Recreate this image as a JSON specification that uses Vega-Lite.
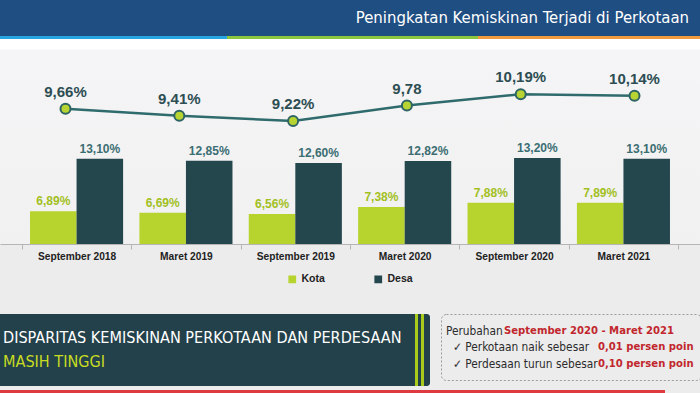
{
  "$schema": "https://vega.github.io/schema/vega-lite/v6.json",
  "background": "#ececec",
  "padding": 0,
  "config": {"view": {"stroke": null}, "font": "Liberation Sans", "legend": {"layout": {"bottom": {"anchor": "middle"}}}},
  "datasets": {
    "batang": [
      {"periode": "September 2018", "kategori": "Kota", "nilai": 6.89, "label": "6,89%"},
      {"periode": "September 2018", "kategori": "Desa", "nilai": 13.10, "label": "13,10%"},
      {"periode": "Maret 2019", "kategori": "Kota", "nilai": 6.69, "label": "6,69%"},
      {"periode": "Maret 2019", "kategori": "Desa", "nilai": 12.85, "label": "12,85%"},
      {"periode": "September 2019", "kategori": "Kota", "nilai": 6.56, "label": "6,56%"},
      {"periode": "September 2019", "kategori": "Desa", "nilai": 12.60, "label": "12,60%"},
      {"periode": "Maret 2020", "kategori": "Kota", "nilai": 7.38, "label": "7,38%"},
      {"periode": "Maret 2020", "kategori": "Desa", "nilai": 12.82, "label": "12,82%"},
      {"periode": "September 2020", "kategori": "Kota", "nilai": 7.88, "label": "7,88%"},
      {"periode": "September 2020", "kategori": "Desa", "nilai": 13.20, "label": "13,20%"},
      {"periode": "Maret 2021", "kategori": "Kota", "nilai": 7.89, "label": "7,89%"},
      {"periode": "Maret 2021", "kategori": "Desa", "nilai": 13.10, "label": "13,10%"}
    ],
    "total": [
      {"periode": "September 2018", "nilai": 9.66, "label": "9,66%"},
      {"periode": "Maret 2019", "nilai": 9.41, "label": "9,41%"},
      {"periode": "September 2019", "nilai": 9.22, "label": "9,22%"},
      {"periode": "Maret 2020", "nilai": 9.78, "label": "9,78"},
      {"periode": "September 2020", "nilai": 10.19, "label": "10,19%"},
      {"periode": "Maret 2021", "nilai": 10.14, "label": "10,14%"}
    ]
  },
  "spacing": 28,
  "resolve": {"scale": {"color": "independent"}, "legend": {"color": "independent"}},
  "vconcat": [
    {
      "spacing": 0,
      "resolve": {"scale": {"color": "independent"}, "legend": {"color": "independent"}},
      "vconcat": [
        {
          "width": 700,
          "height": 36,
          "data": {"values": [{"judul": "Peningkatan Kemiskinan Terjadi di Perkotaan"}]},
          "layer": [
            {"mark": {"type": "rect", "color": "#1f4e82"}, "encoding": {}},
            {
              "mark": {"type": "text", "align": "right", "baseline": "middle", "dx": -11, "color": "#ffffff", "font": "DejaVu Sans Condensed, sans-serif", "fontSize": 16.6},
              "encoding": {
                "x": {"field": "judul", "type": "nominal", "axis": null, "scale": {"type": "point", "padding": 0, "align": 1}},
                "text": {"field": "judul"}
              }
            }
          ]
        },
        {
          "spacing": 0,
          "hconcat": [
            {"width": 227, "height": 3, "data": {"values": [{"garis": "biru"}]}, "mark": {"type": "rect", "color": "#29a6df"}, "encoding": {}},
            {"width": 251, "height": 3, "data": {"values": [{"garis": "hijau"}]}, "mark": {"type": "rect", "color": "#8cc63f"}, "encoding": {}},
            {"width": 222, "height": 3, "data": {"values": [{"garis": "oranye"}]}, "mark": {"type": "rect", "color": "#f29a3e"}, "encoding": {}}
          ]
        },
        {
          "width": 700,
          "height": 205,
          "layer": [
            {
              "data": {"values": [{"latar": 1}]},
              "mark": {"type": "rect", "color": {"gradient": "linear", "x1": 0, "y1": 0, "x2": 0, "y2": 1, "stops": [{"offset": 0, "color": "#ffffff"}, {"offset": 0.048, "color": "#ffffff"}, {"offset": 0.055, "color": "#f5f4f6"}, {"offset": 1, "color": "#f1f1f1"}]}},
              "encoding": {}
            },
            {
              "data": {"name": "batang"},
              "encoding": {
                "x": {"field": "periode", "type": "nominal", "sort": ["September 2018", "Maret 2019", "September 2019", "Maret 2020", "September 2020", "Maret 2021"], "scale": {"paddingInner": 0, "paddingOuter": 0.2},
                  "axis": {"title": null, "labelAngle": 0, "labelFont": "Liberation Sans", "labelFontWeight": "bold", "labelFontSize": 10.2, "labelColor": "#222222", "labelPadding": 2, "tickBand": "extent", "tickSize": 5, "tickColor": "#b5b5b5", "domainColor": "#b5b5b5", "domainWidth": 1}},
                "xOffset": {"field": "kategori", "type": "nominal", "scale": {"domain": ["Kota", "Desa"], "paddingInner": 0, "paddingOuter": 0.175}},
                "y": {"field": "nilai", "type": "quantitative", "scale": {"domain": [3, 27.29], "zero": false, "nice": false, "clamp": true}, "axis": null}
              },
              "layer": [
                {
                  "mark": {"type": "bar"},
                  "encoding": {
                    "color": {"field": "kategori", "type": "nominal", "scale": {"domain": ["Kota", "Desa"], "range": ["#b7d42e", "#24464d"]},
                      "legend": {"title": null, "orient": "bottom", "direction": "horizontal", "offset": 12, "symbolType": "square", "symbolSize": 60, "symbolStrokeWidth": 0, "labelFont": "Liberation Sans", "labelFontWeight": "bold", "labelFontSize": 10.5, "labelColor": "#222222", "labelOffset": 4, "columnPadding": 48}}
                  }
                },
                {
                  "mark": {"type": "text", "baseline": "alphabetic", "dy": -6, "font": "Liberation Sans", "fontWeight": "bold", "fontSize": 12},
                  "encoding": {
                    "text": {"field": "label"},
                    "color": {"condition": {"test": "datum.kategori === 'Kota'", "value": "#a2c01e"}, "value": "#3b6e72"}
                  }
                }
              ]
            },
            {
              "data": {"name": "total"},
              "encoding": {
                "x": {"field": "periode", "type": "ordinal", "sort": ["September 2018", "Maret 2019", "September 2019", "Maret 2020", "September 2020", "Maret 2021"], "scale": {"type": "point", "padding": 0.5755}, "axis": null},
                "y": {"field": "nilai", "type": "quantitative", "scale": {"domain": [4.746, 12.2], "zero": false, "nice": false}, "axis": null}
              },
              "layer": [
                {"mark": {"type": "line", "color": "#2f6b6c", "strokeWidth": 2.5}},
                {"mark": {"type": "point", "filled": true, "fill": "#b8d433", "stroke": "#2e6464", "strokeWidth": 2, "size": 100, "opacity": 1}},
                {
                  "mark": {"type": "text", "baseline": "alphabetic", "dy": -12, "font": "Liberation Sans", "fontWeight": "bold", "fontSize": 15, "color": "#2c4d52"},
                  "encoding": {"text": {"field": "label"}}
                }
              ]
            }
          ],
          "resolve": {"scale": {"x": "independent", "y": "independent"}}
        }
      ]
    },
    {
      "spacing": 4,
      "vconcat": [
        {
          "spacing": 10,
          "hconcat": [
            {
              "spacing": 0,
              "hconcat": [
                {
                  "width": 415,
                  "height": 72,
                  "data": {"values": [
                    {"blok": "spanduk", "baris": 1, "teks": "DISPARITAS KEMISKINAN PERKOTAAN DAN PERDESAAN"},
                    {"blok": "spanduk", "baris": 2, "teks": "MASIH TINGGI"}
                  ]},
                  "layer": [
                    {"mark": {"type": "rect", "color": "#23414a"}, "encoding": {}},
                    {
                      "mark": {"type": "text", "align": "left", "baseline": "middle", "dx": 3, "font": "DejaVu Sans Condensed, sans-serif", "fontSize": 16.1},
                      "encoding": {
                        "x": {"field": "blok", "type": "nominal", "axis": null, "scale": {"type": "point", "padding": 0, "align": 0}},
                        "y": {"field": "baris", "type": "ordinal", "axis": null, "scale": {"type": "point", "padding": 1.214}},
                        "text": {"field": "teks"},
                        "color": {"condition": {"test": "datum.baris === 2", "value": "#c8dc22"}, "value": "#ffffff"}
                      }
                    }
                  ]
                },
                {"width": 3, "height": 72, "data": {"values": [{"garis": 1}]}, "mark": {"type": "rect", "color": "#a9cc1c"}, "encoding": {}},
                {"width": 3, "height": 72, "data": {"values": [{"garis": 2}]}, "mark": {"type": "rect", "color": "#23414a"}, "encoding": {}},
                {"width": 3, "height": 72, "data": {"values": [{"garis": 3}]}, "mark": {"type": "rect", "color": "#a9cc1c"}, "encoding": {}},
                {"width": 6, "height": 72, "data": {"values": [{"garis": 4}]}, "mark": {"type": "rect", "color": "#23414a", "cornerRadiusTopRight": 4, "cornerRadiusBottomRight": 4}, "encoding": {}}
              ]
            },
            {
              "width": 260,
              "height": 66,
              "view": {"stroke": "#9a9a9a", "strokeDash": [2, 2], "strokeWidth": 1, "cornerRadius": 5},
              "data": {"values": [
                {"kotak": "perubahan", "baris": 1, "depan": "Perubahan", "merah": "September 2020 - Maret 2021"},
                {"kotak": "perubahan", "baris": 2, "depan": "✓ Perkotaan naik  sebesar", "merah": "0,01 persen poin"},
                {"kotak": "perubahan", "baris": 3, "depan": "✓ Perdesaan turun sebesar", "merah": "0,10 persen poin"}
              ]},
              "encoding": {
                "x": {"field": "kotak", "type": "nominal", "axis": null, "scale": {"type": "point", "padding": 0, "align": 0}},
                "y": {"field": "baris", "type": "ordinal", "axis": null, "scale": {"type": "point", "padding": 1.129}}
              },
              "layer": [
                {
                  "transform": [{"filter": "datum.baris === 1"}],
                  "mark": {"type": "text", "align": "left", "baseline": "middle", "dx": 5, "font": "DejaVu Sans Condensed, sans-serif", "fontSize": 11.8, "color": "#2b2b2b"},
                  "encoding": {"text": {"field": "depan"}}
                },
                {
                  "transform": [{"filter": "datum.baris > 1"}],
                  "mark": {"type": "text", "align": "left", "baseline": "middle", "dx": 12, "font": "DejaVu Sans Condensed, sans-serif", "fontSize": 11.8, "color": "#2b2b2b"},
                  "encoding": {"text": {"field": "depan"}}
                },
                {
                  "transform": [{"filter": "datum.baris === 1"}],
                  "mark": {"type": "text", "align": "left", "baseline": "middle", "dx": 63, "font": "DejaVu Sans Condensed, sans-serif", "fontSize": 11.2, "fontWeight": "bold", "color": "#c1272d"},
                  "encoding": {"text": {"field": "merah"}}
                },
                {
                  "transform": [{"filter": "datum.baris > 1"}],
                  "mark": {"type": "text", "align": "left", "baseline": "middle", "dx": 157, "font": "DejaVu Sans Condensed, sans-serif", "fontSize": 11.2, "fontWeight": "bold", "color": "#c1272d"},
                  "encoding": {"text": {"field": "merah"}}
                }
              ]
            }
          ]
        },
        {"width": 665, "height": 3, "data": {"values": [{"garis": "merah"}]}, "mark": {"type": "rect", "color": "#de3a3f"}, "encoding": {}}
      ]
    }
  ]
}
